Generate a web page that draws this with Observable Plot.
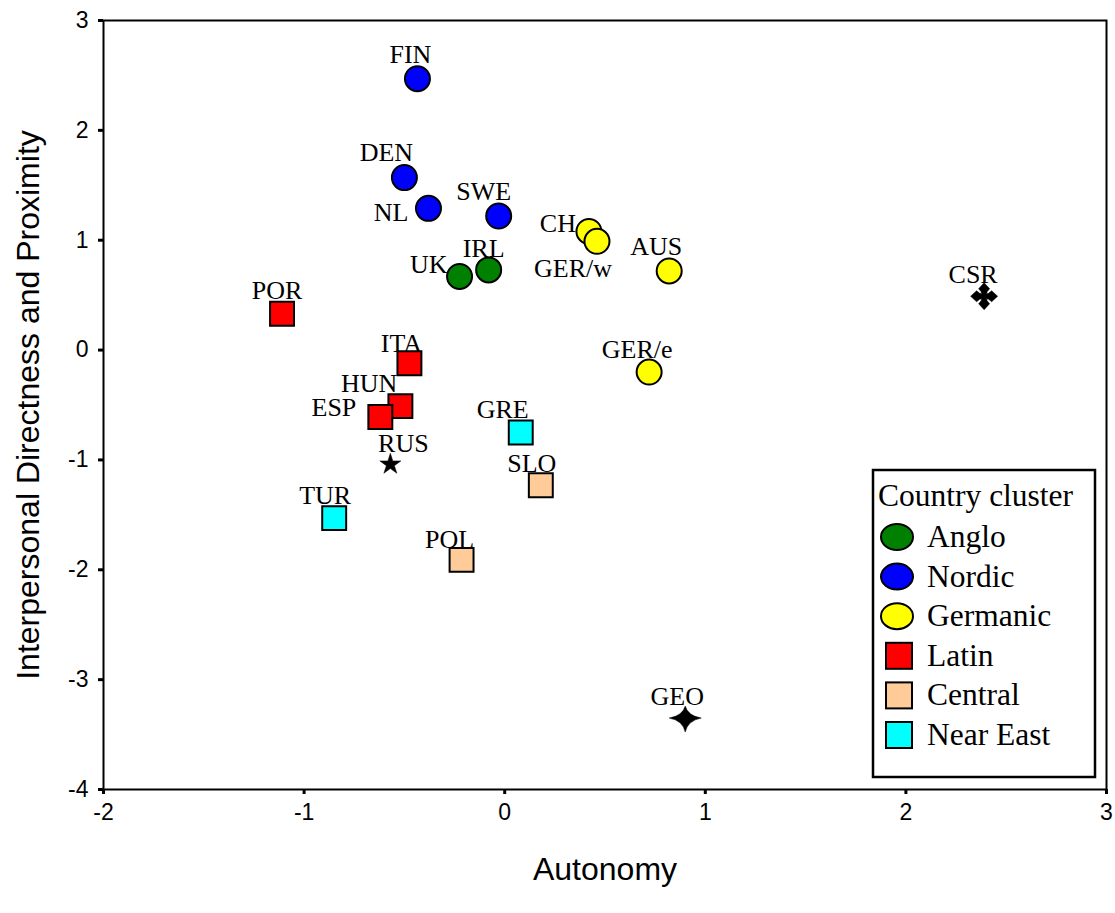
<!DOCTYPE html>
<html>
<head>
<meta charset="utf-8">
<script src="https://cdn.jsdelivr.net/npm/d3@7"></script>
<script src="https://cdn.jsdelivr.net/npm/@observablehq/plot@0.6"></script>
<style>
  html, body { margin: 0; padding: 0; background: white; }
  #chart { width: 1115px; height: 913px; }
</style>
</head>
<body>
<div id="chart"></div>
<script>
// ---- Data ----
const countries = ["FIN","DEN","NL","SWE","CH","GER/w","AUS","UK","IRL","POR","ITA","GER/e","HUN","ESP","GRE","RUS","SLO","TUR","POL","GEO","CSR"];
const autonomy   = [-0.435,-0.50,-0.38,-0.03,0.42,0.46,0.82,-0.225,-0.08,-1.11,-0.475,0.72,-0.52,-0.62,0.08,-0.57,0.18,-0.85,-0.215,0.90,2.39];
const directness = [2.47,1.57,1.29,1.22,1.08,0.99,0.72,0.67,0.73,0.33,-0.12,-0.20,-0.51,-0.61,-0.75,-1.04,-1.23,-1.53,-1.91,-3.35,0.49];
const cluster    = ["Nordic","Nordic","Nordic","Nordic","Germanic","Germanic","Germanic","Anglo","Anglo","Latin","Latin","Germanic","Latin","Latin","Near East","none","Central","Near East","Central","none","none"];
const clusterNames  = ["Anglo","Nordic","Germanic","Latin","Central","Near East"];
const clusterColors = ["#008000","#0000ff","#ffff00","#ff0000","#ffcc99","#00ffff"];
const clusterShapes = ["ellipse","ellipse","ellipse","square","square","square"];
const specialShapes = {RUS: "star", GEO: "sparkle", CSR: "cross"};
const xTicks = [-2,-1,0,1,2,3];
const yTicks = [-4,-3,-2,-1,0,1,2,3];
const xTitle = "Autonomy";
const yTitle = "Interpersonal Directness and Proximity";
const legendTitle = "Country cluster";

// ---- Layout (label offsets in px: dx, dy, anchor) ----
const labelLayout = {
  "FIN":[-7,-24,"middle"], "DEN":[-18,-25,"middle"], "NL":[-20,4,"end"], "SWE":[-15,-24,"middle"],
  "CH":[-13,-8,"end"], "GER/w":[-24,27,"middle"], "AUS":[-13,-24,"middle"], "UK":[-12,-12,"end"],
  "IRL":[-5,-21,"middle"], "POR":[-5,-23,"middle"], "ITA":[-8,-20,"middle"], "GER/e":[-12,-22,"middle"],
  "HUN":[-3,-22,"end"], "ESP":[-24,-9,"end"], "GRE":[-18,-23,"middle"], "RUS":[13,-21,"middle"],
  "SLO":[-9,-22,"middle"], "TUR":[-9,-22,"middle"], "POL":[-12,-20,"middle"], "GEO":[-8,-21,"middle"],
  "CSR":[-11,-22,"middle"]
};

const data = countries.map((c, i) => ({country: c, x: autonomy[i], y: directness[i], cluster: cluster[i]}));
const shapeOf = d => specialShapes[d.country] || clusterShapes[clusterNames.indexOf(d.cluster)];

// custom symbols
const crossSymbol = {
  draw(ctx) {
    const base = [[-5.5,-7.5],[0,-13.5],[5.5,-7.5],[3,-4.5],[2.5,-2.5],[4.5,-3]];
    let first = true;
    for (let k = 0; k < 4; k++) {
      for (let [x, y] of base) {
        for (let r = 0; r < k; r++) [x, y] = [-y, x];
        if (first) { ctx.moveTo(x, y); first = false; } else ctx.lineTo(x, y);
      }
    }
    ctx.closePath();
  }
};
const sparkleSymbol = {
  draw(ctx) {
    ctx.moveTo(0, -12);
    ctx.quadraticCurveTo(2.5, -2.5, 16, 0);
    ctx.quadraticCurveTo(2.5, 2.5, 0, 14);
    ctx.quadraticCurveTo(-2.5, 2.5, -16, 0);
    ctx.quadraticCurveTo(-2.5, -2.5, 0, -12);
    ctx.closePath();
  }
};

const labelMarks = data.map(d => {
  const [dx, dy, anchor] = labelLayout[d.country];
  return Plot.text([d], {x: "x", y: "y", text: "country", dx, dy, textAnchor: anchor,
    fontFamily: "Liberation Serif, Times New Roman, serif", fontSize: 26, fill: "black"});
});

const chart = Plot.plot({
  width: 1115, height: 913,
  marginLeft: 103, marginRight: 9, marginTop: 20, marginBottom: 124,
  style: {fontFamily: "Liberation Sans, Arial, sans-serif", background: "white"},
  x: {domain: [-2, 3]},
  y: {domain: [-4, 3]},
  color: {domain: clusterNames, range: clusterColors},
  marks: [
    Plot.frame({stroke: "black", strokeWidth: 2}),
    Plot.axisX({ticks: xTicks, tickSize: 5, strokeWidth: 3, tickPadding: 9, fontSize: 23, tickFormat: d => String(d), label: null}),
    Plot.axisY({ticks: yTicks, tickSize: 5, strokeWidth: 3, tickPadding: 10, fontSize: 23, tickFormat: d => String(d), label: null}),
    Plot.text([xTitle], {frameAnchor: "bottom", dy: 90, fontSize: 32, fill: "black"}),
    Plot.text([yTitle], {frameAnchor: "left", textAnchor: "middle", dx: -75, rotate: -90, fontSize: 32, fill: "black"}),
    Plot.dot(data.filter(d => shapeOf(d) === "ellipse"), {x: "x", y: "y", r: 12.5, fill: "cluster", stroke: "black", strokeWidth: 2}),
    Plot.dot(data.filter(d => shapeOf(d) === "square"), {x: "x", y: "y", symbol: "square", r: 13.5, fill: "cluster", stroke: "black", strokeWidth: 2}),
    Plot.dot(data.filter(d => shapeOf(d) === "star"), {x: "x", y: "y", symbol: "star", r: 6.6, fill: "black", stroke: "black", strokeWidth: 0.5}),
    Plot.dot(data.filter(d => shapeOf(d) === "cross"), {x: "x", y: "y", symbol: crossSymbol, r: 10, fill: "black", stroke: "black", strokeWidth: 0.5}),
    Plot.dot(data.filter(d => shapeOf(d) === "sparkle"), {x: "x", y: "y", symbol: sparkleSymbol, r: 10, fill: "black", stroke: "black", strokeWidth: 0.5}),
    ...labelMarks
  ]
});
document.getElementById("chart").appendChild(chart);

// ---- Legend (drawn into the same SVG) ----
const svg = d3.select(chart);
const lg = svg.append("g").attr("font-family", "Liberation Serif, Times New Roman, serif").attr("text-anchor", "start");
lg.append("rect").attr("x", 873).attr("y", 470).attr("width", 222).attr("height", 307)
  .attr("fill", "white").attr("stroke", "black").attr("stroke-width", 2.5);
lg.append("text").attr("x", 878).attr("y", 506).attr("font-size", 31.5).attr("fill", "black").text(legendTitle);
clusterNames.forEach((name, i) => {
  const cy = 537 + i * 39.6;
  if (clusterShapes[i] === "ellipse") {
    lg.append("ellipse").attr("cx", 897).attr("cy", cy).attr("rx", 16).attr("ry", 13)
      .attr("fill", clusterColors[i]).attr("stroke", "black").attr("stroke-width", 2);
  } else {
    lg.append("rect").attr("x", 899 - 13).attr("y", cy - 13).attr("width", 26).attr("height", 26)
      .attr("fill", clusterColors[i]).attr("stroke", "black").attr("stroke-width", 2);
  }
  lg.append("text").attr("x", 927).attr("y", cy + 10).attr("font-size", 31.5).attr("fill", "black").text(name);
});
</script>
</body>
</html>
